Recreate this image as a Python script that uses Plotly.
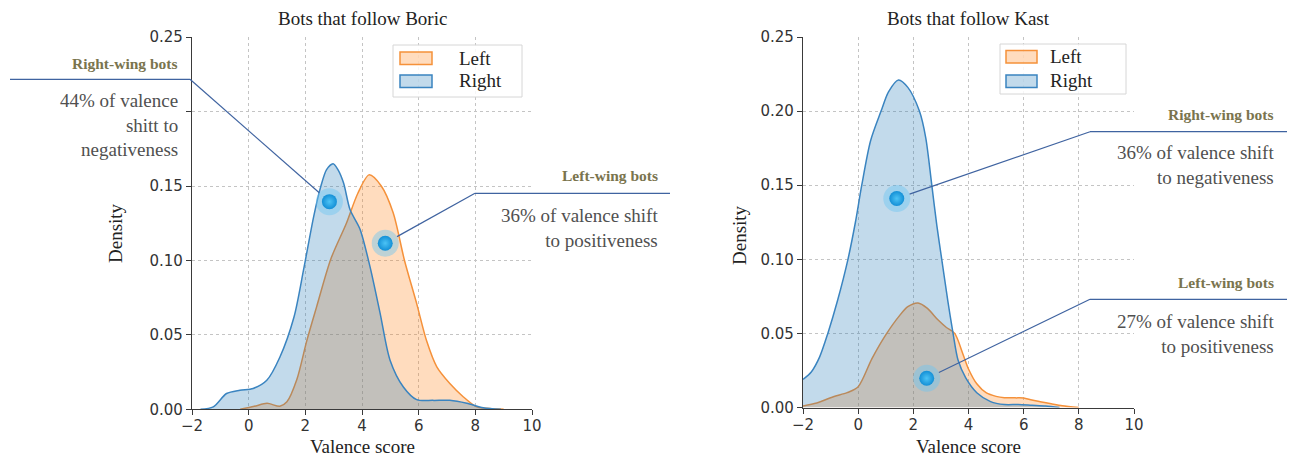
import plotly.graph_objects as go

W, H = 1295, 456

# ---------------- data ----------------
series_names = ["Left", "Right"]
titles = ["Bots that follow Boric", "Bots that follow Kast"]

boric_left_x = [-0.3, 0.2, 0.65, 1.1, 1.35, 1.7, 2.05, 2.4, 2.9, 3.45, 3.85, 4.25, 4.68, 5.1, 5.5, 5.93, 6.28, 6.64, 7.1, 7.58, 8.05, 8.5, 9.0]
boric_left_y = [0.0, 0.002, 0.004, 0.002, 0.005, 0.02, 0.046, 0.069, 0.101, 0.125, 0.145, 0.1575, 0.15, 0.132, 0.10, 0.071, 0.046, 0.0285, 0.0173, 0.0083, 0.0016, 0.0005, 0.0]

boric_right_x = [-1.7, -1.25, -0.78, -0.31, 0.16, 0.64, 1.1, 1.6, 1.95, 2.3, 2.55, 2.75, 2.98, 3.15, 3.35, 3.58, 3.93, 4.28, 4.64, 4.99, 5.46, 5.93, 6.5, 7.1, 7.7, 8.28, 8.9]
boric_right_y = [0.0, 0.0016, 0.0106, 0.0128, 0.014, 0.0195, 0.035, 0.062, 0.095, 0.13, 0.15, 0.161, 0.165, 0.161, 0.152, 0.134, 0.121, 0.096, 0.0645, 0.033, 0.015, 0.0065, 0.006, 0.006, 0.004, 0.001, 0.0]

kast_left_x = [-2.0, -1.5, -0.9, -0.4, 0.0, 0.5, 1.0, 1.5, 1.8, 2.17, 2.5, 2.9, 3.2, 3.5, 3.8, 4.0, 4.3, 4.65, 5.0, 5.3, 5.7, 6.0, 6.3, 6.6, 7.0, 7.4, 8.0]
kast_left_y = [0.001, 0.003, 0.0073, 0.01, 0.014, 0.033, 0.049, 0.062, 0.068, 0.0705, 0.067, 0.059, 0.054, 0.05, 0.036, 0.026, 0.016, 0.0098, 0.0075, 0.0066, 0.0065, 0.0064, 0.005, 0.0039, 0.0025, 0.0012, 0.0]

kast_right_x = [-2.0, -1.7, -1.4, -1.1, -0.75, -0.37, -0.1, 0.13, 0.45, 0.83, 1.1, 1.46, 1.8, 2.22, 2.45, 2.67, 2.85, 3.03, 3.25, 3.44, 3.62, 3.9, 4.3, 4.8, 5.3, 5.8, 6.3, 6.8, 7.3]
kast_right_y = [0.019, 0.024, 0.034, 0.05, 0.072, 0.10, 0.125, 0.15, 0.18, 0.20, 0.213, 0.221, 0.216, 0.20, 0.182, 0.15, 0.123, 0.10, 0.072, 0.05, 0.032, 0.02, 0.01, 0.004, 0.002, 0.002, 0.0015, 0.001, 0.0]

x_tick_vals = [-2, 0, 2, 4, 6, 8, 10]
x_tick_text = ["\u22122", "0", "2", "4", "6", "8", "10"]
y_tick_vals = [0.0, 0.05, 0.10, 0.15, 0.20, 0.25]
# in the Boric panel the 0.20 label is hidden behind the callout text
y_tick_text_boric = ["0.00", "0.05", "0.10", "0.15", "", "0.25"]
y_tick_text_kast = ["0.00", "0.05", "0.10", "0.15", "0.20", "0.25"]
x_range = [-2, 10]
y_range = [0, 0.25]

# callout points (data coords): [right-wing, left-wing]
boric_callout_x = [2.85, 4.82]
boric_callout_y = [0.1395, 0.1116]
kast_callout_x = [1.40, 2.485]
kast_callout_y = [0.141, 0.0197]
callout_heads = ["Right-wing bots", "Left-wing bots"]
boric_callout_text = ["44% of valence<br>shitt to<br>negativeness", "36% of valence shift<br>to positiveness"]
kast_callout_text = ["36% of valence shift<br>to negativeness", "27% of valence shift<br>to positiveness"]

# ---------------- style ----------------
C_ORANGE = "#f5913a"
C_BLUE = "#3a84c0"
F_ORANGE = "rgba(255,127,14,0.27)"
F_BLUE = "rgba(31,119,180,0.27)"
SERIF = "Liberation Serif, Times New Roman, serif"
SANS = "DejaVu Sans, sans-serif"
HEAD_COLOR = "#7a744e"
BODY_COLOR = "#505050"
LEADER = "#3f63a0"

# panel geometry in pixels
panels = [
    dict(x0=192, x1=532, yt=37.2, yb=409.3, xa="x", ya="y"),
    dict(x0=803, x1=1134, yt=37.0, yb=407.5, xa="x2", ya="y2"),
]
y_tick_texts = [y_tick_text_boric, y_tick_text_kast]


def paper_x(px):
    return px / W


def paper_y(py):
    return 1 - py / H


def data_to_px(p, x, y):
    px = p["x0"] + (x - x_range[0]) / (x_range[1] - x_range[0]) * (p["x1"] - p["x0"])
    py = p["yb"] - (y - y_range[0]) / (y_range[1] - y_range[0]) * (p["yb"] - p["yt"])
    return px, py


fig = go.Figure()

datasets = [
    [(boric_left_x, boric_left_y), (boric_right_x, boric_right_y)],
    [(kast_left_x, kast_left_y), (kast_right_x, kast_right_y)],
]
line_cols = [C_ORANGE, C_BLUE]
fill_cols = [F_ORANGE, F_BLUE]

for pi, p in enumerate(panels):
    for si, (xs, ys) in enumerate(datasets[pi]):
        fig.add_trace(go.Scatter(
            x=xs, y=ys, mode="lines", name=series_names[si],
            line=dict(color=line_cols[si], width=1.5, shape="spline", smoothing=0.8),
            fill="tozeroy", fillcolor=fill_cols[si],
            xaxis=p["xa"], yaxis=p["ya"], showlegend=False, hoverinfo="skip",
        ))

callouts = [
    (boric_callout_x, boric_callout_y, boric_callout_text),
    (kast_callout_x, kast_callout_y, kast_callout_text),
]
for pi, p in enumerate(panels):
    cx, cy, _ = callouts[pi]
    fig.add_trace(go.Scatter(
        x=cx, y=cy, mode="markers", xaxis=p["xa"], yaxis=p["ya"],
        marker=dict(size=27, color="rgba(110,198,242,0.45)", line=dict(width=0)),
        showlegend=False, hoverinfo="skip", cliponaxis=False,
    ))
    fig.add_trace(go.Scatter(
        x=cx, y=cy, mode="markers", xaxis=p["xa"], yaxis=p["ya"],
        marker=dict(size=15, color="#138fd6", line=dict(width=0),
                    gradient=dict(type="radial", color="#4cc3f5")),
        showlegend=False, hoverinfo="skip", cliponaxis=False,
    ))

shapes = []
annotations = []

# callout layout (pixels): elbow, horizontal end, text right edge, head y, body y
callout_layout = [
    [dict(ex=190, ey=79.3, hx=10, tx=180, hy=63, by=125),
     dict(ex=475, ey=193.3, hx=670, tx=660, hy=175.7, by=227.5)],
    [dict(ex=1090, ey=131.7, hx=1287, tx=1276, hy=114, by=165),
     dict(ex=1090, ey=299.3, hx=1287, tx=1276, hy=282.7, by=334)],
]
HALO_R = 13.5
for pi, p in enumerate(panels):
    cx, cy, texts = callouts[pi]
    for ci in range(2):
        L = callout_layout[pi][ci]
        dpx, dpy = data_to_px(p, cx[ci], cy[ci])
        vx, vy = L["ex"] - dpx, L["ey"] - dpy
        d = (vx ** 2 + vy ** 2) ** 0.5
        sx, sy = dpx + vx / d * HALO_R, dpy + vy / d * HALO_R
        shapes.append(dict(type="line", xref="paper", yref="paper",
                           x0=paper_x(sx), y0=paper_y(sy), x1=paper_x(L["ex"]), y1=paper_y(L["ey"]),
                           line=dict(color=LEADER, width=1.2), layer="above"))
        shapes.append(dict(type="line", xref="paper", yref="paper",
                           x0=paper_x(L["ex"]), y0=paper_y(L["ey"]), x1=paper_x(L["hx"]), y1=paper_y(L["ey"]),
                           line=dict(color=LEADER, width=1.2), layer="above"))
        annotations.append(dict(xref="paper", yref="paper", x=paper_x(L["tx"]), y=paper_y(L["hy"]),
                                xanchor="right", yanchor="middle", showarrow=False,
                                text="<b>" + callout_heads[ci] + "</b>",
                                font=dict(family=SERIF, size=15.5, color=HEAD_COLOR)))
        annotations.append(dict(xref="paper", yref="paper", x=paper_x(L["tx"]), y=paper_y(L["by"]),
                                xanchor="right", yanchor="middle", align="right", showarrow=False,
                                text=texts[ci],
                                font=dict(family=SERIF, size=19, color=BODY_COLOR)))

# titles and axis titles
ylabel_pos = [(115, 233), (739, 235)]
for pi, p in enumerate(panels):
    cxp = (p["x0"] + p["x1"]) / 2
    annotations.append(dict(xref="paper", yref="paper", x=paper_x(cxp), y=paper_y(18),
                            xanchor="center", yanchor="middle", showarrow=False,
                            text=titles[pi], font=dict(family=SERIF, size=19, color="#222")))
    annotations.append(dict(xref="paper", yref="paper", x=paper_x(cxp), y=paper_y(446),
                            xanchor="center", yanchor="middle", showarrow=False,
                            text="Valence score", font=dict(family=SERIF, size=19, color="#222")))
    annotations.append(dict(xref="paper", yref="paper", x=paper_x(ylabel_pos[pi][0]), y=paper_y(ylabel_pos[pi][1]),
                            xanchor="center", yanchor="middle", showarrow=False, textangle=-90,
                            text="Density", font=dict(family=SERIF, size=19, color="#222")))

# legends (drawn boxes)
legend_layout = [
    dict(bx0=393, bx1=522, by0=45, by1=97, px0=400, px1=432, tx=457, rows=[(52, 64.5, 58.5), (75, 87.5, 81)]),
    dict(bx0=1000, bx1=1126, by0=44, by1=94, px0=1006, px1=1037, tx=1048, rows=[(50.5, 63, 56.7), (75, 87.5, 81)]),
]
for lg in legend_layout:
    shapes.append(dict(type="rect", xref="paper", yref="paper",
                       x0=paper_x(lg["bx0"]), x1=paper_x(lg["bx1"]), y0=paper_y(lg["by1"]), y1=paper_y(lg["by0"]),
                       line=dict(color="#d6d6d6", width=1), fillcolor="rgba(255,255,255,0.85)", layer="above"))
    for si in range(2):
        r0, r1, ty = lg["rows"][si]
        shapes.append(dict(type="rect", xref="paper", yref="paper",
                           x0=paper_x(lg["px0"]), x1=paper_x(lg["px1"]), y0=paper_y(r1), y1=paper_y(r0),
                           line=dict(color=line_cols[si], width=1.5), fillcolor=fill_cols[si], layer="above"))
        annotations.append(dict(xref="paper", yref="paper", x=paper_x(lg["tx"]), y=paper_y(ty),
                                xanchor="left", yanchor="middle", showarrow=False,
                                text=series_names[si], font=dict(family=SERIF, size=19, color="#222")))

axis_common = dict(
    showgrid=True, gridcolor="#c4c4c4", griddash="dot", gridwidth=1,
    showline=True, linecolor="#3a3a3a", linewidth=1.3,
    ticks="outside", ticklen=5, tickwidth=1.2, tickcolor="#3a3a3a",
    tickfont=dict(family=SANS, size=15, color="#333"),
    zeroline=False, fixedrange=True, automargin=False,
)

layout_axes = {}
for pi, p in enumerate(panels):
    xk = "xaxis" if pi == 0 else "xaxis2"
    yk = "yaxis" if pi == 0 else "yaxis2"
    layout_axes[xk] = dict(axis_common, domain=[paper_x(p["x0"]), paper_x(p["x1"])],
                           range=x_range, tickvals=x_tick_vals, ticktext=x_tick_text,
                           anchor=p["ya"], ticklabelstandoff=-2)
    layout_axes[yk] = dict(axis_common, domain=[paper_y(p["yb"]), paper_y(p["yt"])],
                           range=y_range, tickvals=y_tick_vals, ticktext=y_tick_texts[pi],
                           anchor=p["xa"])

fig.update_layout(
    width=W, height=H,
    margin=dict(l=0, r=0, t=0, b=0, pad=0, autoexpand=False),
    paper_bgcolor="white", plot_bgcolor="white",
    showlegend=False,
    shapes=shapes, annotations=annotations,
    **layout_axes,
)

fig.write_html("out.html")
